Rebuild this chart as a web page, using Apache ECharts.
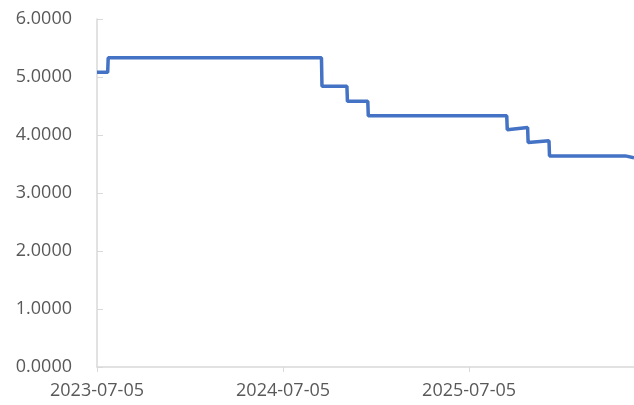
<!DOCTYPE html>
<html>
<head>
<meta charset="utf-8">
<script src="https://cdn.jsdelivr.net/npm/echarts@6/dist/echarts.min.js"></script>
<style>
  html, body { margin: 0; padding: 0; background: #fff; }
  #chart { width: 634px; height: 405px; }
</style>
</head>
<body>
<div id="chart"></div>
<script>
// daily rate, only the points around each move are kept
var dates = ['2023-07-05', '2023-07-26', '2023-07-27', '2024-09-18', '2024-09-19',
             '2024-11-07', '2024-11-08', '2024-12-18', '2024-12-19', '2025-09-17',
             '2025-09-18', '2025-10-28', '2025-10-29', '2025-12-09', '2025-12-10',
             '2026-05-08', '2026-05-25'];
var values = [5.08, 5.08, 5.33, 5.33, 4.84,
              4.84, 4.58, 4.58, 4.33, 4.33,
              4.09, 4.13, 3.87, 3.90, 3.64,
              3.64, 3.605];
var xTickLabels = ['2023-07-05', '2024-07-05', '2025-07-05'];

var DAY = 86400000;
function toTime(s) {
    var p = s.split('-');
    return Date.UTC(+p[0], +p[1] - 1, +p[2]);
}
var seriesData = dates.map(function (d, i) { return [toTime(d), values[i]]; });
var xMin = toTime(xTickLabels[0]);
var xStep = (toTime(xTickLabels[2]) - xMin) / 2;

var myChart = echarts.init(document.getElementById('chart'));

var textStyle = { color: '#595959', fontSize: 18, fontFamily: 'Open Sans' };

var option = {
    backgroundColor: '#fff',
    animation: false,
    grid: {
        left: 97,
        right: 0,
        top: 19,
        bottom: 38
    },
    xAxis: {
        type: 'value',
        min: xMin,
        max: seriesData[seriesData.length - 1][0],
        interval: xStep,
        axisLine: { lineStyle: { color: '#d9d9d9', width: 1.5 } },
        axisTick: { show: true, length: 5, lineStyle: { color: '#d9d9d9' } },
        splitLine: { show: false },
        axisLabel: Object.assign({
            margin: 15,
            showMaxLabel: false,
            formatter: function (v) {
                var i = Math.round((v - xMin) / xStep);
                return xTickLabels[i] || '';
            }
        }, textStyle)
    },
    yAxis: {
        type: 'value',
        min: 0,
        max: 6,
        interval: 1,
        axisLine: { show: true, lineStyle: { color: '#d9d9d9', width: 1.5 } },
        axisTick: { show: true, inside: true, length: 6, lineStyle: { color: '#d9d9d9' } },
        splitLine: { show: false },
        axisLabel: Object.assign({
            margin: 25,
            formatter: function (v) { return v.toFixed(4); }
        }, textStyle)
    },
    series: [
        {
            type: 'line',
            data: seriesData,
            showSymbol: false,
            lineStyle: { color: '#4472c4', width: 3.5 },
            itemStyle: { color: '#4472c4' }
        }
    ]
};
myChart.setOption(option);
</script>
</body>
</html>
